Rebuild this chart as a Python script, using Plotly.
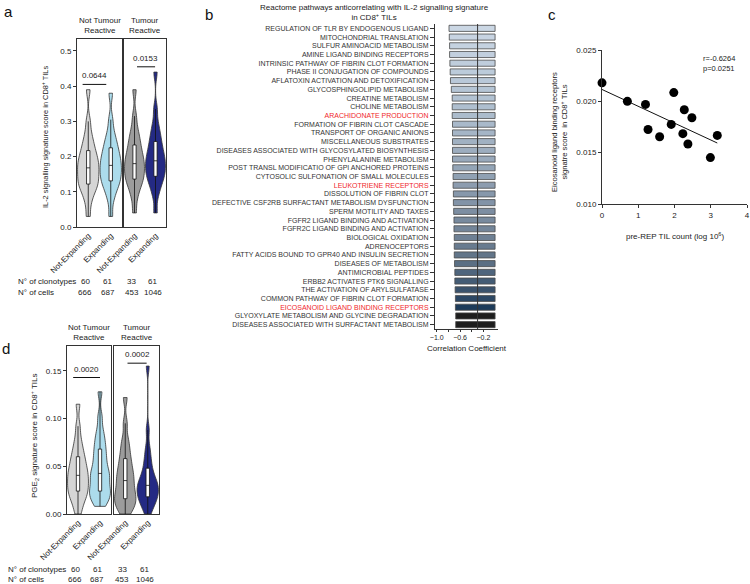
import numpy as np
import plotly.graph_objects as go

FONT = "Arial, Liberation Sans, sans-serif"
W, H = 750, 584

# ---- panels a / d : violin data (values read as quantiles off the picture)
groups = ["Not-Expanding", "Expanding"]
violin_colors = ["#d5d5d5", "#acdcec", "#9c9c9c", "#242a84"]

il2_ntr_notexp = [0.03, 0.07, 0.092, 0.106, 0.116, 0.122, 0.130, 0.139, 0.148, 0.156, 0.164,
                  0.172, 0.180, 0.188, 0.196, 0.206, 0.217, 0.230, 0.245, 0.265, 0.30, 0.39]
il2_ntr_exp = [0.03, 0.075, 0.098, 0.112, 0.122, 0.131, 0.139, 0.147, 0.155, 0.163, 0.171,
               0.179, 0.187, 0.195, 0.204, 0.214, 0.225, 0.237, 0.251, 0.27, 0.305, 0.38]
il2_tr_notexp = [0.04, 0.08, 0.103, 0.117, 0.127, 0.136, 0.144, 0.152, 0.160, 0.168, 0.176,
                 0.184, 0.192, 0.200, 0.210, 0.221, 0.233, 0.246, 0.261, 0.28, 0.315, 0.39]
il2_tr_exp = [0.04, 0.088, 0.11, 0.124, 0.135, 0.144, 0.152, 0.16, 0.168, 0.176, 0.184,
              0.192, 0.2, 0.209, 0.219, 0.231, 0.243, 0.257, 0.273, 0.295, 0.335, 0.44]

pge2_ntr_notexp = [0.0, 0.008, 0.014, 0.018, 0.021, 0.024, 0.027, 0.030, 0.033, 0.036, 0.039,
                   0.042, 0.045, 0.048, 0.052, 0.056, 0.060, 0.065, 0.071, 0.079, 0.092, 0.115]
pge2_ntr_exp = [0.008, 0.012, 0.016, 0.019, 0.022, 0.024, 0.027, 0.031, 0.035, 0.039, 0.041,
                0.044, 0.048, 0.053, 0.058, 0.063, 0.068, 0.074, 0.080, 0.088, 0.102, 0.128]
pge2_tr_notexp = [0.0, 0.004, 0.008, 0.011, 0.014, 0.016, 0.019, 0.022, 0.026, 0.029, 0.033,
                  0.037, 0.040, 0.044, 0.048, 0.053, 0.058, 0.064, 0.071, 0.079, 0.095, 0.122]
pge2_tr_exp = [0.0, 0.006, 0.010, 0.013, 0.016, 0.018, 0.020, 0.022, 0.025, 0.027, 0.029,
               0.031, 0.033, 0.036, 0.039, 0.043, 0.048, 0.054, 0.061, 0.070, 0.088, 0.155]

clonotypes = [60, 61, 33, 61]
cells = [666, 687, 453, 1046]
il2_pvals = ["0.0644", "0.0153"]
pge2_pvals = ["0.0020", "0.0002"]

# ---- panel b : reactome pathways
pathways = [
    "REGULATION OF TLR BY ENDOGENOUS LIGAND", "MITOCHONDRIAL TRANSLATION",
    "SULFUR AMINOACID METABOLISM", "AMINE LIGAND BINDING RECEPTORS",
    "INTRINSIC PATHWAY OF FIBRIN CLOT FORMATION", "PHASE II CONJUGATION OF COMPOUNDS",
    "AFLATOXIN ACTIVATION AND DETOXIFICATION", "GLYCOSPHINGOLIPID METABOLISM",
    "CREATINE METABOLISM", "CHOLINE METABOLISM", "ARACHIDONATE PRODUCTION",
    "FORMATION OF FIBRIN CLOT CASCADE", "TRANSPORT OF ORGANIC ANIONS",
    "MISCELLANEOUS SUBSTRATES", "DISEASES ASSOCIATED WITH GLYCOSYLATED BIOSYNTHESIS",
    "PHENYLALANINE METABOLISM", "POST TRANSL MODIFICATIO OF GPI ANCHORED PROTEINS",
    "CYTOSOLIC SULFONATION OF SMALL MOLECULES", "LEUKOTRIENE RECEPTORS",
    "DISSOLUTION OF FIBRIN CLOT", "DEFECTIVE CSF2RB SURFACTANT METABOLISM DYSFUNCTION",
    "SPERM MOTILITY AND TAXES", "FGFR2 LIGAND BINDING AND ACTIVATION",
    "FGFR2C LIGAND BINDING AND ACTIVATION", "BIOLOGICAL OXIDATION", "ADRENOCEPTORS",
    "FATTY ACIDS BOUND TO GPR40 AND INSULIN SECRETION", "DISEASES OF METABOLISM",
    "ANTIMICROBIAL PEPTIDES", "ERBB2 ACTIVATES PTK6 SIGNALLING",
    "THE ACTIVATION OF ARYLSULFATASE", "COMMON PATHWAY OF FIBRIN CLOT FORMATION",
    "EICOSANOID LIGAND BINDING RECEPTORS", "GLYOXYLATE METABOLISM AND GLYCINE DEGRADATION",
    "DISEASES ASSOCIATED WITH SURFACTANT METABOLISM",
]
highlighted = ["ARACHIDONATE PRODUCTION", "LEUKOTRIENE RECEPTORS", "EICOSANOID LIGAND BINDING RECEPTORS"]
correlation = [-0.79, -0.785, -0.78, -0.78, -0.775, -0.77, -0.765, -0.75, -0.735, -0.735,
               -0.735, -0.73, -0.73, -0.73, -0.73, -0.73, -0.725, -0.72, -0.72, -0.715,
               -0.715, -0.71, -0.705, -0.705, -0.70, -0.70, -0.70, -0.695, -0.69, -0.69,
               -0.685, -0.68, -0.68, -0.675, -0.675]
bar_colors = ["#cbd7e4", "#c8d4e2", "#c5d2e0", "#c2cfde", "#bfcddc", "#bccbda", "#b9c8d8",
              "#b5c5d5", "#b2c2d2", "#afbfcf", "#acbccc", "#a9b9ca", "#a5b5c6", "#a1b1c2",
              "#9dadbf", "#99a9bb", "#94a5b7", "#90a1b3", "#8c9caf", "#8798ab", "#8293a7",
              "#7d8ea2", "#788a9e", "#738599", "#6e8094", "#687b8f", "#627589", "#5b6f84",
              "#4f657d", "#445c75", "#3a526c", "#2c4764", "#1d3b5a", "#1e1e1e", "#1e1e1e"]
corr_threshold = -0.3

# ---- panel c : scatter
til_count = [0.0, 0.70, 1.20, 1.27, 1.59, 1.91, 1.98, 2.27, 2.23, 2.48, 2.37, 2.99, 3.18]
eico_score = [0.0218, 0.0200, 0.0197, 0.01726, 0.01655, 0.01775, 0.02085, 0.01918,
              0.01685, 0.0184, 0.01584, 0.01452, 0.01668]
stats_text = "r=-0.6264<br>p=0.0251"


def px(x):
    return x / W


def py(y):
    return 1 - y / H


fig = go.Figure()
ann = []
shapes = []

axis_common = dict(showline=True, linecolor="#333", linewidth=1, showgrid=False, zeroline=False,
                   automargin=False,
                   tickfont=dict(size=8, color="#222", family=FONT), tickcolor="#333")


def violin_panel(sets, ax_ids, x_doms, y_dom, yrange, dtick, fmt, bw, pvals, sig, rows_y,
                 headers_y):
    for k, (xa, ya) in enumerate(ax_ids):
        for j in range(2):
            vals = sets[2 * k + j]
            fig.add_trace(go.Violin(
                x=[groups[j]] * len(vals), y=vals, xaxis=xa, yaxis=ya,
                fillcolor=violin_colors[2 * k + j], opacity=1,
                line=dict(color="#333", width=0.8), points=False, spanmode="hard",
                bandwidth=bw, width=0.95, scalemode="width",
                box=dict(visible=True, width=0.16, fillcolor="white",
                         line=dict(color="#111", width=0.8)),
                meanline=dict(visible=False), showlegend=False, hoverinfo="skip"))
        xkey = "xaxis" + xa[1:]
        ykey = "yaxis" + ya[1:]
        fig.layout[xkey] = dict(axis_common, domain=[px(x_doms[k][0]), px(x_doms[k][1])],
                                anchor=ya, type="category", categoryorder="array",
                                categoryarray=groups, range=[-0.5, 1.5], mirror=True,
                                ticks="", tickangle=-45)
        ydict = dict(axis_common, domain=[py(y_dom[1]), py(y_dom[0])], anchor=xa,
                     range=yrange, mirror=True, dtick=dtick, tickformat=fmt)
        if k == 0:
            ydict.update(ticks="outside", ticklen=3)
        else:
            ydict.update(ticks="", showticklabels=False)
        fig.layout[ykey] = ydict
        # header
        ann.append(dict(text=["Not Tumour<br>Reactive", "Tumour<br>Reactive"][k],
                        xref=xa + " domain", x=0.5, yref="paper", y=py(headers_y),
                        xanchor="center", yanchor="bottom", showarrow=False,
                        font=dict(size=8, color="#222")))
        # significance
        x0, x1, xt, yl = sig[k]
        shapes.append(dict(type="line", xref=xa, yref=ya, x0=x0, x1=x1, y0=yl, y1=yl,
                           line=dict(color="#111", width=1)))
        ann.append(dict(text=pvals[k], xref=xa, yref=ya, x=xt, y=yl, yshift=2,
                        xanchor="center", yanchor="bottom", showarrow=False,
                        font=dict(size=8, color="#222")))
        # counts
        for j in range(2):
            for r, arr in enumerate([clonotypes, cells]):
                ann.append(dict(text=str(arr[2 * k + j]), xref=xa, x=j, xshift=-3,
                                yref="paper", y=py(rows_y[r]), xanchor="center",
                                yanchor="middle", showarrow=False,
                                font=dict(size=8, color="#222")))
    for r, lab in enumerate(["N° of clonotypes", "N° of cells"]):
        ann.append(dict(text=lab, xref="paper", x=px(rows_y[2]), yref="paper",
                        y=py(rows_y[r]), xanchor="left", yanchor="middle", showarrow=False,
                        font=dict(size=8, color="#222")))


# panel a
violin_panel([il2_ntr_notexp, il2_ntr_exp, il2_tr_notexp, il2_tr_exp],
             [("x", "y"), ("x2", "y2")], [(77, 122), (124, 166)], (39, 227),
             [0, 0.534], 0.1, ".1f", 0.02, il2_pvals,
             [(-0.25, 0.8, 0.28, 0.405), (0.12, 0.98, 0.5, 0.455)], (281, 292, 16), 37)
# panel d
violin_panel([pge2_ntr_notexp, pge2_ntr_exp, pge2_tr_notexp, pge2_tr_exp],
             [("x3", "y3"), ("x4", "y4")], [(67, 111), (114, 159)], (346, 514),
             [0, 0.176], 0.05, ".2f", 0.007, pge2_pvals,
             [(-0.22, 1.0, 0.4, 0.143), (0.1, 0.95, 0.55, 0.158)], (569, 579, 6), 344)

ann.append(dict(text="IL-2 signalling signature score in CD8<sup>+</sup> TILs", xref="paper",
                x=px(45), yref="paper", y=py(137), textangle=-90, showarrow=False,
                xanchor="center", yanchor="middle", font=dict(size=7.4, color="#222")))
ann.append(dict(text="PGE<sub>2</sub> signature score in CD8<sup>+</sup> TILs", xref="paper",
                x=px(34), yref="paper", y=py(436), textangle=-90, showarrow=False,
                xanchor="center", yanchor="middle", font=dict(size=8, color="#222")))

# panel b
ticktext = ['<span style="color:#f0282d">%s</span>' % p if p in highlighted else p
            for p in pathways]
fig.add_trace(go.Bar(x=correlation, y=pathways, orientation="h", xaxis="x5", yaxis="y5",
                     marker=dict(color=bar_colors, line=dict(color="#4a4a4a", width=0.8)),
                     showlegend=False, hoverinfo="skip"))
fig.layout.xaxis5 = dict(axis_common, domain=[px(435), px(498)], anchor="y5",
                         range=[-1.03, 0.05], tickvals=[-1.0, -0.6, -0.2], tickformat=".1f",
                         ticks="outside", ticklen=2, tickfont=dict(size=7, color="#222"),
                         minor=dict(tickvals=[-0.8, -0.4], ticks="outside", ticklen=2,
                                    tickcolor="#333"))
fig.layout.yaxis5 = dict(axis_common, domain=[py(329), py(24)], anchor="x5",
                         autorange="reversed", tickmode="array", tickvals=pathways,
                         ticktext=ticktext, ticks="outside", ticklen=4,
                         tickfont=dict(size=7, color="#333"))
fig.update_layout(bargap=0.3)
shapes.append(dict(type="line", xref="x5", yref="y5 domain", x0=corr_threshold,
                   x1=corr_threshold, y0=0, y1=1, line=dict(color="#333", width=1)))
ann.append(dict(text="Reactome pathways anticorrelating with IL-2 signalling signature<br>"
                     "in CD8<sup>+</sup> TILs", xref="paper", x=px(374), yref="paper",
                y=py(1), xanchor="center", yanchor="top", showarrow=False,
                font=dict(size=8, color="#222")))
ann.append(dict(text="Correlation Coefficient", xref="x5 domain", x=0.5, yref="paper",
                y=py(348), xanchor="center", yanchor="middle", showarrow=False,
                font=dict(size=8, color="#222")))

# panel c
fit = np.polyfit(til_count, eico_score, 1)
xfit = np.array([min(til_count), max(til_count)])
fig.add_trace(go.Scatter(x=xfit, y=np.polyval(fit, xfit), mode="lines", xaxis="x6",
                         yaxis="y6", line=dict(color="#111", width=1), showlegend=False,
                         hoverinfo="skip"))
fig.add_trace(go.Scatter(x=til_count, y=eico_score, mode="markers", xaxis="x6", yaxis="y6",
                         marker=dict(color="black", size=9), showlegend=False,
                         cliponaxis=False))
fig.layout.xaxis6 = dict(axis_common, domain=[px(602), px(747)], anchor="y6", range=[0, 4],
                         dtick=1, ticks="outside", ticklen=3)
fig.layout.yaxis6 = dict(axis_common, domain=[py(204), py(50)], anchor="x6",
                         range=[0.010, 0.025], dtick=0.005, tickformat=".3f",
                         ticks="outside", ticklen=3)
ann.append(dict(text=stats_text, xref="paper", x=px(701), yref="paper", y=py(52),
                xanchor="left", yanchor="top", align="left", showarrow=False,
                font=dict(size=7.5, color="#222")))
ann.append(dict(text="Eicosanoid ligand binding receptors<br>signatre score  in CD8<sup>+</sup> TILs",
                xref="paper", x=px(559), yref="paper", y=py(132), textangle=-90,
                xanchor="center", yanchor="middle", showarrow=False,
                font=dict(size=7.6, color="#222")))
ann.append(dict(text="pre-REP TIL count (log 10<sup>6</sup>)", xref="x6 domain", x=0.5,
                yref="paper", y=py(236), xanchor="center", yanchor="middle",
                showarrow=False, font=dict(size=8, color="#222")))

# panel letters
for letter, lx, ly in [("a", 2, 1), ("b", 203, 4), ("c", 546, 4), ("d", 0, 338)]:
    ann.append(dict(text=letter, xref="paper", x=px(lx), yref="paper", y=py(ly),
                    xanchor="left", yanchor="top", showarrow=False,
                    font=dict(size=15, color="#111")))

fig.update_layout(width=W, height=H, margin=dict(l=0, r=0, t=0, b=0),
                  paper_bgcolor="white", plot_bgcolor="white", violinmode="overlay",
                  font=dict(family=FONT, color="#222"), annotations=ann, shapes=shapes)
# the page body has an 8px default margin; drop it so the figure sits at 0,0
fig.write_html("out.html", config={"displayModeBar": False},
               post_script="document.body.style.margin='0px';")
